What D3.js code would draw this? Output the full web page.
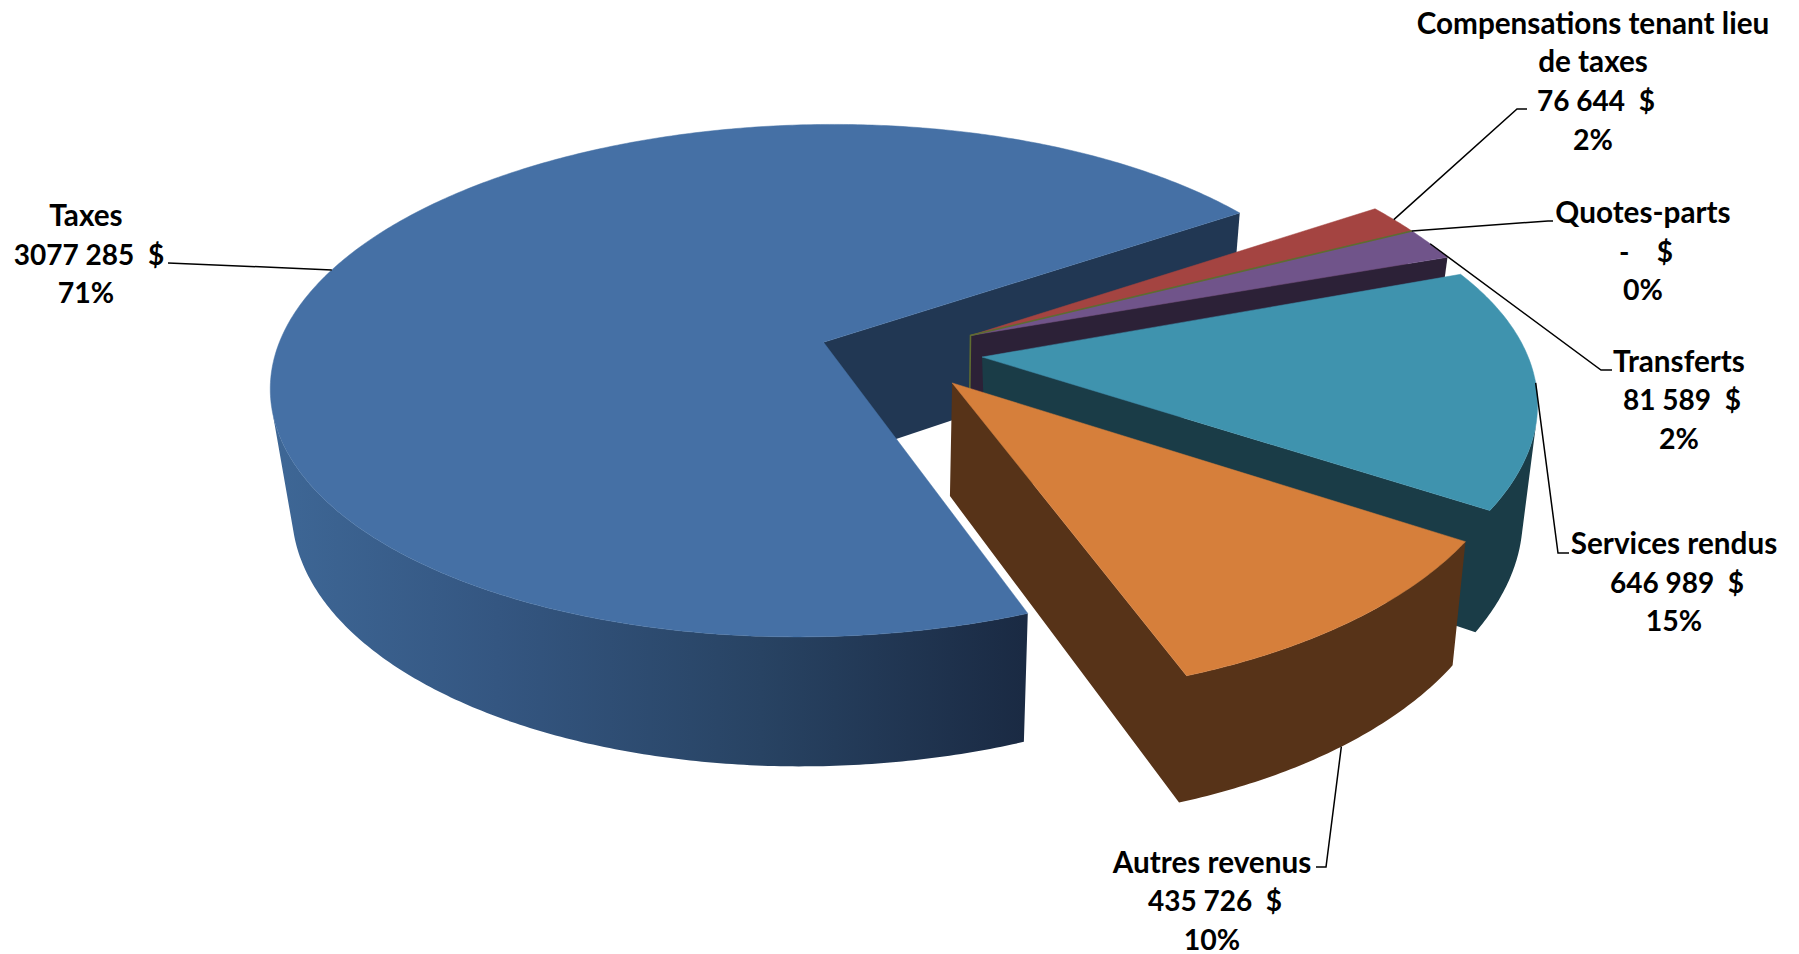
<!DOCTYPE html>
<html>
<head>
<meta charset="utf-8">
<script src="https://cdn.jsdelivr.net/npm/d3@7"></script>
<style>
  body { margin: 0; background: #fff; }
  text { font-family: Lato, sans-serif; font-weight: 700; font-size: 29.7px; white-space: pre; fill: #000; }
  text.amount { font-size: 28px; }
  text.percent { font-size: 28.5px; }
</style>
</head>
<body>
<svg id="chart" width="1799" height="954"></svg>
<script>
// Chart data
var values = [3077285, 76644, 0, 81589, 646989, 435726];
var nameLines = [["Taxes"], ["Compensations tenant lieu", "de taxes"], ["Quotes-parts"], ["Transferts"], ["Services rendus"], ["Autres revenus"]];
var amountLabels = ["3077 285  $", "76 644  $", "-    $", "81 589  $", "646 989  $", "435 726  $"];
var percentLabels = ["71%", "2%", "0%", "2%", "15%", "10%"];

// Colours
var topColors = ["#4570a5", "#a44441", "#5f6c30", "#70548a", "#3f93ae", "#d67f3b"];
var wallColors = ["#213753", "#5a2524", "#4f5f2c", "#2c2137", "#1a3c47", "#573318"];

// Label layout: centre x, first baseline, leader elbow x/y, leader end x, wall level of the leader start
var labelLayout = [
  { x: 86, y: 226, elbow: [168, 263], end: 168, z: 0 },
  { x: 1593, y: 33.5, elbow: [1517, 109], end: 1527, z: 0 },
  { x: 1643, y: 223, elbow: [1548, 221], end: 1553, z: 0 },
  { x: 1679, y: 371.5, elbow: [1601, 370], end: 1612, z: 0 },
  { x: 1674, y: 554, elbow: [1558, 553], end: 1569, z: 0 },
  { x: 1212, y: 872.6, elbow: [1326, 867], end: 1316, z: -1 }
];
var lineHeight = 38.7;
var amountShift = 3;

// Projection of the pie: unit circle (u, v) and depth z to screen, one camera per group of
// slices. The picture was warped in 3D so each exploded group has its own coefficients.
// [a1, a2, a3, a4, b1, b2, b3, b4, c1, c2, c3]
var cameras = [
  [517.55, -225.10, -30.32, 823.50, 34.83, 196.16, -135.29, 342.27, -0.01455, -0.14939, -0.03290],
  [452.82, -356.38, -30.32, 970.50, 37.40, 186.35, -135.29, 335.50, -0.07678, -0.26004, -0.03290],
  [485.61, -331.05, -35.89, 982.05, 22.82, 163.09, -126.41, 357.00, -0.04537, -0.22410, -0.03280],
  [477.12, -211.63, -15.28, 952.13, 15.51, 211.39, -122.34, 382.91, -0.05862, -0.14051, -0.01840]
];
var cameraOf = [0, 1, 1, 1, 2, 3];

function project(cam, angle, r, z) {
  var u = r * Math.sin(angle);
  var v = -r * Math.cos(angle);
  var w = cam[8] * u + cam[9] * v + cam[10] * z + 1;
  return [
    (cam[0] * u + cam[1] * v + cam[2] * z + cam[3]) / w,
    (cam[4] * u + cam[5] * v + cam[6] * z + cam[7]) / w
  ];
}

// Signed area tells if a wall quad looks at the viewer
function faceArea(q) {
  var a = 0;
  q.forEach(function(c, i) {
    var d = q[(i + 1) % q.length];
    a += c[0] * d[1] - d[0] * c[1];
  });
  return a;
}

var line = d3.line();

function wallPath(quads) {
  return quads.filter(q => faceArea(q) < 0).map(q => line(q) + "Z").join("");
}

var svg = d3.select("#chart");

// Side of the big slice gets darker to the right
var gradient = svg.append("defs").append("linearGradient")
  .attr("id", "blueWall")
  .attr("gradientUnits", "userSpaceOnUse")
  .attr("x1", 272).attr("x2", 1024).attr("y1", 0).attr("y2", 0);

[[0, "#3e6796"], [0.3, "#345681"], [0.65, "#284363"], [1, "#1a2a43"]].forEach(function(s) {
  gradient.append("stop").attr("offset", s[0]).attr("stop-color", s[1]);
});

var slices = d3.pie()
  .sort(null)
  .value(d => d)
  .startAngle(150 * Math.PI / 180)
  .endAngle(510 * Math.PI / 180)(values);

function drawTop(i) {
  var s = slices[i];
  var cam = cameras[cameraOf[i]];
  var n = Math.ceil((s.endAngle - s.startAngle) / 0.01);
  var top = d3.range(n + 1).map(k => project(cam, s.startAngle + k / n * (s.endAngle - s.startAngle), 1, 0));
  top.push(project(cam, 0, 0, 0));
  svg.append("path")
    .attr("d", line(top) + "Z")
    .attr("fill", topColors[i])
    .attr("stroke", topColors[i])
    .attr("stroke-width", 0.5);
}

// Slices are painted back to front, in pie order
slices.forEach(function(s, i) {
  var cam = cameras[cameraOf[i]];
  var P = (a, r, z) => project(cam, a, r, z);
  var a0 = s.startAngle, a1 = s.endAngle;

  // the 0% slice is only a thin line, drawn over the purple slice
  if (i === 2) return;

  var n = Math.ceil((a1 - a0) / 0.01);
  var angles = d3.range(n + 1).map(k => a0 + k / n * (a1 - a0));
  var quads = d3.range(n).map(k => [P(angles[k], 1, 0), P(angles[k + 1], 1, 0), P(angles[k + 1], 1, -1), P(angles[k], 1, -1)]);
  var radial = [
    [P(a0, 0, 0), P(a0, 1, 0), P(a0, 1, -1), P(a0, 0, -1)],
    [P(a1, 1, 0), P(a1, 0, 0), P(a1, 0, -1), P(a1, 1, -1)]
  ];

  if (i === 0) {
    svg.append("path").attr("d", wallPath(radial)).attr("fill", wallColors[0]);
    svg.append("path").attr("d", wallPath(quads)).attr("fill", "url(#blueWall)");
  } else {
    svg.append("path").attr("d", wallPath(quads.concat(radial))).attr("fill", wallColors[i]);
  }

  drawTop(i);

  if (i === 3) {
    var zero = slices[2].startAngle;
    svg.append("path")
      .attr("d", line([P(zero, 1, 0), P(zero, 0, 0), P(zero, 0, -1)]))
      .attr("fill", "none")
      .attr("stroke", topColors[2])
      .attr("stroke-width", 1.6);
  }
});

// Leader lines start on the rim at the middle of each slice
slices.forEach(function(s, i) {
  var l = labelLayout[i];
  var start = project(cameras[cameraOf[i]], (s.startAngle + s.endAngle) / 2, 1, l.z);
  svg.append("path")
    .attr("d", line([start, l.elbow, [l.end, l.elbow[1]]]))
    .attr("fill", "none")
    .attr("stroke", "#000")
    .attr("stroke-width", 1.5);
});

// Labels
values.forEach(function(v, i) {
  var l = labelLayout[i];
  var names = nameLines[i];
  names.forEach(function(t, k) {
    svg.append("text")
      .attr("x", l.x)
      .attr("y", l.y + k * lineHeight)
      .attr("text-anchor", "middle")
      .text(t);
  });
  svg.append("text")
    .attr("class", "amount")
    .attr("x", l.x + amountShift)
    .attr("y", l.y + names.length * lineHeight)
    .attr("text-anchor", "middle")
    .text(amountLabels[i]);
  svg.append("text")
    .attr("class", "percent")
    .attr("x", l.x)
    .attr("y", l.y + (names.length + 1) * lineHeight)
    .attr("text-anchor", "middle")
    .text(percentLabels[i]);
});
</script>
</body>
</html>
